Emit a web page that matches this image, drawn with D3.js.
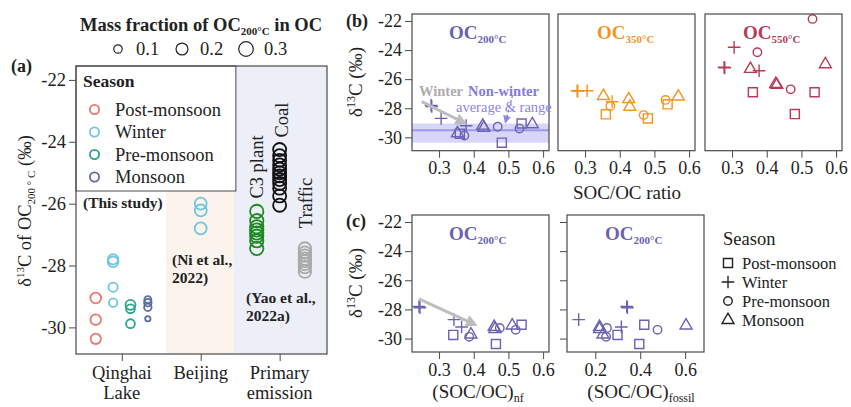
<!DOCTYPE html>
<html><head><meta charset="utf-8">
<script src="https://cdn.jsdelivr.net/npm/d3@7"></script>
<style>body{margin:0;background:#fff} svg{font-family:"Liberation Serif","Times New Roman",serif}</style>
</head><body>
<svg id="c" width="851" height="407"></svg>
<script>
// ---------------- DATA ----------------
const seasons = ["Post-monsoon","Winter","Pre-monsoon","Monsoon"];
const seasonColors = ["#E9786A","#70C5E1","#2AA48D","#5A6CA4"];
// samples (Qinghai Lake)
const sampleSeason = ["Post-monsoon","Post-monsoon","Post-monsoon","Winter","Winter","Winter","Winter","Pre-monsoon","Pre-monsoon","Pre-monsoon","Monsoon","Monsoon","Monsoon","Monsoon"];
const socOcRatio  = [0.360,0.481,0.538, 0.277,0.279,0.306,0.378, 0.373,0.469,0.532, 0.353,0.426,0.429,0.569];
const socOcNf     = [0.341,0.464,0.538, 0.242,0.245,0.343,0.365, 0.387,0.475,0.521, 0.392,0.459,0.461,0.511];
const socOcFossil = [0.299,0.396,0.418, 0.340,0.343,0.126,0.316, 0.248,0.252,0.477, 0.234,0.219,0.219,0.604];
const d13C_OC200  = [-29.75,-30.37,-29.05, -27.80,-27.88,-28.70,-29.20, -29.88,-29.27,-29.40, -29.72,-29.20,-29.35,-29.10];
const d13C_OC350  = [-28.42,-28.70,-27.73, -26.80,-26.82,-26.80,-27.55, -27.85,-28.47,-27.43, -27.16,-27.38,-27.90,-27.20];
const d13C_OC550  = [-26.90,-28.40,-26.90, -25.18,-25.22,-23.81,-25.42, -24.15,-26.70,-21.86, -25.30,-26.33,-26.40,-24.98];
const massFracOC200 = [0.16,0.15,0.16, 0.15,0.16,0.12,0.10, 0.11,0.14,0.11, 0.04,0.08,0.08,0.07];
// literature
const beijingD13C = [-26.00,-26.22,-26.80];
const beijingFrac = [0.20,0.20,0.20];
const c3PlantD13C = [-26.25,-26.55,-26.75,-26.85,-26.95,-27.05,-27.20,-27.45];
const c3PlantFrac = [0.25,0.25,0.25,0.25,0.25,0.25,0.25,0.25];
const coalD13C = [-24.25,-24.45,-24.60,-24.75,-24.88,-25.00,-25.10,-25.22,-25.35,-25.50,-25.75,-26.05];
const coalFrac = [0.24,0.24,0.24,0.24,0.24,0.24,0.24,0.24,0.24,0.24,0.24,0.24];
const trafficD13C = [-27.45,-27.58,-27.68,-27.78,-27.86,-27.95,-28.05,-28.20];
const trafficFrac = [0.22,0.22,0.22,0.22,0.22,0.22,0.22,0.22];
const sizeLegendValues = [0.1,0.2,0.3];
const categoriesA = [["Qinghai","Lake"],["Beijing"],["Primary","emission"]];
const yTicks = [-30,-28,-26,-24,-22];
const xTicksRatio = [0.3,0.4,0.5,0.6];
const xTicksFossil = [0.2,0.4,0.6];

// ---------------- SETUP ----------------
const svg = d3.select("#c");
const AX = "#4a4a4a";
const yFmt = d => String(d);   // plain hyphen-minus as in the figure
const colorOf = d3.scaleOrdinal().domain(seasons).range(seasonColors);
const plusType = {draw(ctx,size){const r=Math.sqrt(size)/2;ctx.moveTo(-r,0);ctx.lineTo(r,0);ctx.moveTo(0,-r);ctx.lineTo(0,r);}};
const symType = {"Post-monsoon":d3.symbolSquare,"Winter":plusType,"Pre-monsoon":d3.symbolCircle,"Monsoon":d3.symbolTriangle};
const symSize = {"Post-monsoon":82,"Winter":160,"Pre-monsoon":56,"Monsoon":62};
const symPath = s => d3.symbol().type(symType[s]).size(symSize[s])();

const defs = svg.append("defs");
function marker(id,color,w){
  defs.append("marker").attr("id",id).attr("viewBox","0 0 10 10").attr("refX",7).attr("refY",5)
    .attr("markerWidth",w).attr("markerHeight",w).attr("orient","auto-start-reverse").attr("markerUnits","userSpaceOnUse")
    .append("path").attr("d","M0,0L10,5L0,10z").attr("fill",color);
}
marker("arrGray","#BDBDBD",12);
marker("arrPurple","#8C86E6",8);

function sub(t, main, subTxt, mainSize, subSize, dy){
  t.append("tspan").text(main).attr("font-size",mainSize);
  t.append("tspan").text(subTxt).attr("font-size",subSize).attr("dy",dy);
}

// ---------------- PANEL (a) ----------------
const A = {l:76,r:327,t:66,b:354};
const xA = d3.scaleLinear().domain([0.42,3.6]).range([A.l,A.r]);
const yA = d3.scaleLinear().domain([-30.86,-21.55]).range([A.b,A.t]);
const rA = d3.scaleSqrt().domain([0,0.3]).range([0,7.3]);
const regionBounds = [1.56,2.42];
const gA = svg.append("g");
gA.append("rect").attr("x",xA(regionBounds[0])).attr("y",A.t).attr("width",xA(regionBounds[1])-xA(regionBounds[0])).attr("height",A.b-A.t).attr("fill","#FCF3EC");
gA.append("rect").attr("x",xA(regionBounds[1])).attr("y",A.t).attr("width",A.r-xA(regionBounds[1])).attr("height",A.b-A.t).attr("fill","#ECEEF8");
// legend box (season) sits on top of the shading
gA.append("rect").attr("x",A.l).attr("y",A.t).attr("width",xA(regionBounds[1])-A.l+2).attr("height",125).attr("fill","#fff").attr("stroke",AX).attr("stroke-width",1);

const seasonOffset = {"Post-monsoon":-0.33,"Winter":-0.11,"Pre-monsoon":0.11,"Monsoon":0.33};
const ptsA = [];
sampleSeason.forEach((s,i)=>ptsA.push({x:1+seasonOffset[s],y:d13C_OC200[i],f:massFracOC200[i],c:colorOf(s)}));
beijingD13C.forEach((v,i)=>ptsA.push({x:2,y:v,f:beijingFrac[i],c:colorOf("Winter")}));
c3PlantD13C.forEach((v,i)=>ptsA.push({x:3-0.29,y:v,f:c3PlantFrac[i],c:"#1E8A22"}));
coalD13C.forEach((v,i)=>ptsA.push({x:3,y:v,f:coalFrac[i],c:"#111"}));
trafficD13C.forEach((v,i)=>ptsA.push({x:3+0.32,y:v,f:trafficFrac[i],c:"#A9A9A9"}));
gA.selectAll("circle.pt").data(ptsA).join("circle").attr("class","pt")
  .attr("cx",d=>xA(d.x)).attr("cy",d=>yA(d.y)).attr("r",d=>rA(d.f))
  .attr("fill","none").attr("stroke",d=>d.c).attr("stroke-width",1.8);

gA.append("rect").attr("x",A.l).attr("y",A.t).attr("width",A.r-A.l).attr("height",A.b-A.t).attr("fill","none").attr("stroke",AX).attr("stroke-width",1.2);
const yAxA = gA.append("g").attr("transform",`translate(${A.l},0)`).call(d3.axisLeft(yA).tickValues(yTicks).tickSize(7).tickPadding(3).tickFormat(yFmt));
yAxA.select(".domain").remove();
yAxA.selectAll("line").attr("stroke",AX);
yAxA.selectAll("text").attr("font-size",18.5).attr("font-family","Liberation Serif").attr("fill","#222");
const xAxA = gA.append("g").attr("transform",`translate(0,${A.b})`).call(d3.axisBottom(xA).tickValues([1,2,3]).tickSize(7).tickFormat(""));
xAxA.select(".domain").remove();
xAxA.selectAll("line").attr("stroke",AX);
categoriesA.forEach((lines,i)=>{
  lines.forEach((ln,j)=>gA.append("text").attr("x",xA(i+1)).attr("y",379+j*20).attr("text-anchor","middle").attr("font-size",18.5).attr("fill","#222").text(ln));
});
// season legend
gA.append("text").attr("x",83).attr("y",87).attr("font-size",17.5).attr("font-weight","bold").attr("fill","#222").text("Season");
seasons.forEach((s,i)=>{
  const y = 109.5+i*22.5;
  gA.append("circle").attr("cx",94.5).attr("cy",y).attr("r",4.6).attr("fill","none").attr("stroke",colorOf(s)).attr("stroke-width",1.8);
  gA.append("text").attr("x",115).attr("y",y+6).attr("font-size",18.5).attr("fill","#222").text(s);
});
// annotations
const annA = [
  {x:83,y:208,t:"(This study)"},
  {x:172,y:265,t:"(Ni et al.,"},{x:172,y:283,t:"2022)"},
  {x:246,y:303,t:"(Yao et al.,"},{x:246,y:321,t:"2022a)"}];
annA.forEach(a=>gA.append("text").attr("x",a.x).attr("y",a.y).attr("font-size",15.5).attr("font-weight","bold").attr("fill","#222").text(a.t));
[{x:263,y:167,t:"C3 plant"},{x:288,y:120,t:"Coal"},{x:312,y:203,t:"Traffic"}].forEach(a=>
  gA.append("text").attr("transform",`translate(${a.x},${a.y}) rotate(-90)`).attr("text-anchor","middle").attr("font-size",18.5).attr("fill","#222").text(a.t));
// size legend
const tl = gA.append("text").attr("x",80).attr("y",31).attr("font-weight","bold").attr("fill","#222");
tl.append("tspan").text("Mass fraction of OC").attr("font-size",18.5);
tl.append("tspan").text("200°C").attr("font-size",11).attr("dy",4);
tl.append("tspan").text(" in OC").attr("font-size",18.5).attr("dy",-4);
sizeLegendValues.forEach((v,i)=>{
  const cx = 118+i*64;
  gA.append("circle").attr("cx",cx).attr("cy",49).attr("r",rA(v)).attr("fill","none").attr("stroke","#222").attr("stroke-width",1.2);
  gA.append("text").attr("x",cx+18).attr("y",55).attr("font-size",18.5).attr("fill","#222").text(d3.format(".1f")(v));
});
gA.append("text").attr("x",11).attr("y",72).attr("font-size",18).attr("font-weight","bold").attr("fill","#222").text("(a)");
const ylA = gA.append("text").attr("transform","translate(31,211) rotate(-90)").attr("text-anchor","middle").attr("fill","#222").attr("font-size",18.5);
ylA.append("tspan").text("δ");
ylA.append("tspan").text("13").attr("font-size",11).attr("dy",-7);
ylA.append("tspan").text("C of OC").attr("dy",7);
ylA.append("tspan").text("200 ° C").attr("font-size",11).attr("dy",4);
ylA.append("tspan").text(" (‰)").attr("dy",-4);

// ---------------- PANELS (b), (c) ----------------
function scatterPanel(o){
  const g = svg.append("g");
  const x = d3.scaleLinear().domain(o.xDom).range([o.l,o.r]);
  const y = d3.scaleLinear().domain([-30.92,-21.52]).range([o.b,o.t]);
  if (o.band) o.band(g,x,y);
  const pts = sampleSeason.map((s,i)=>({s,x:o.xs[i],y:o.ys[i]}));
  g.selectAll("path.pt").data(pts).join("path").attr("class","pt")
    .attr("transform",d=>`translate(${x(d.x)},${y(d.y)})`).attr("d",d=>symPath(d.s))
    .attr("fill","none").attr("stroke",o.color).attr("stroke-width",1.4);
  g.append("rect").attr("x",o.l).attr("y",o.t).attr("width",o.r-o.l).attr("height",o.b-o.t).attr("fill","none").attr("stroke",AX).attr("stroke-width",1.2);
  const xa = g.append("g").attr("transform",`translate(0,${o.b})`).call(d3.axisBottom(x).tickValues(o.xTicks).tickSize(7).tickPadding(4).tickFormat(d3.format(".1f")));
  xa.select(".domain").remove(); xa.selectAll("line").attr("stroke",AX);
  xa.selectAll("text").attr("font-size",18).attr("font-family","Liberation Serif").attr("fill","#222");
  if (o.yTicks){
    const ya = g.append("g").attr("transform",`translate(${o.l},0)`).call(d3.axisLeft(y).tickValues(yTicks).tickSize(7).tickPadding(3).tickFormat(o.yLabels?yFmt:""));
    ya.select(".domain").remove(); ya.selectAll("line").attr("stroke",AX);
    ya.selectAll("text").attr("font-size",18).attr("font-family","Liberation Serif").attr("fill","#222");
  }
  const t = g.append("text").attr("x",o.titleX).attr("y",o.t+25).attr("font-weight","bold").attr("fill",o.color);
  sub(t,"OC",o.sub,19,11,4);
  if (o.after) o.after(g,x,y);
  return g;
}
const purple = "#6A62B2", orange = "#F7931E", crimson = "#B83A55";
const nonWinter = d13C_OC200.filter((v,i)=>sampleSeason[i]!=="Winter");
const nwMean = d3.mean(nonWinter), nwExt = d3.extent(nonWinter);
const dom = [0.222,0.617];
const bT = 14, bB = 150.7, cT = 215, cB = 352;

scatterPanel({l:412,r:549,t:bT,b:bB,xDom:dom,xTicks:xTicksRatio,xs:socOcRatio,ys:d13C_OC200,color:purple,yTicks:true,yLabels:true,titleX:449,sub:"200°C",
  band:(g,x,y)=>{
    g.append("rect").attr("x",412).attr("width",137).attr("y",y(nwExt[1])).attr("height",y(nwExt[0])-y(nwExt[1])).attr("fill","#C9C8F6").attr("opacity",0.75);
    g.append("line").attr("x1",412).attr("x2",549).attr("y1",y(nwMean)).attr("y2",y(nwMean)).attr("stroke","#9C97EE").attr("stroke-width",2);
  },
  after:(g,x,y)=>{
    g.append("line").attr("x1",x(0.250)).attr("y1",y(-27.55)).attr("x2",x(0.372)).attr("y2",y(-29.0)).attr("stroke","#BDBDBD").attr("stroke-width",3).attr("marker-end","url(#arrGray)");
    g.append("text").attr("x",419).attr("y",96).attr("font-size",14.5).attr("font-weight","bold").attr("fill","#ABABAB").text("Winter");
    g.append("text").attr("x",468).attr("y",96).attr("font-size",14.5).attr("font-weight","bold").attr("fill","#827AE0").text("Non-winter");
    g.append("text").attr("x",456).attr("y",112).attr("font-size",14.5).attr("fill","#8C86E6").text("average & range");
    g.append("line").attr("x1",x(0.512)).attr("y1",y(-27.1)).attr("x2",x(0.492)).attr("y2",y(-28.9)).attr("stroke","#8C86E6").attr("stroke-width",1.3).attr("stroke-dasharray","3,2").attr("marker-end","url(#arrPurple)");
  }});
scatterPanel({l:558,r:695,t:bT,b:bB,xDom:dom,xTicks:xTicksRatio,xs:socOcRatio,ys:d13C_OC350,color:orange,titleX:597,sub:"350°C"});
scatterPanel({l:705,r:842,t:bT,b:bB,xDom:dom,xTicks:xTicksRatio,xs:socOcRatio,ys:d13C_OC550,color:crimson,titleX:743,sub:"550°C"});
scatterPanel({l:412,r:549,t:cT,b:cB,xDom:dom,xTicks:xTicksRatio,xs:socOcNf,ys:d13C_OC200,color:purple,yTicks:true,yLabels:true,titleX:449,sub:"200°C",
  after:(g,x,y)=>{
    g.append("line").attr("x1",x(0.242)).attr("y1",y(-27.28)).attr("x2",x(0.402)).attr("y2",y(-29.02)).attr("stroke","#BDBDBD").attr("stroke-width",3).attr("marker-end","url(#arrGray)");
  }});
scatterPanel({l:567,r:704,t:cT,b:cB,xDom:[0.074,0.684],xTicks:xTicksFossil,xs:socOcFossil,ys:d13C_OC200,color:purple,yTicks:true,yLabels:false,titleX:605,sub:"200°C"});

// axis titles & labels
function yLab(x,y){
  const t = svg.append("text").attr("transform",`translate(${x},${y}) rotate(-90)`).attr("text-anchor","middle").attr("fill","#222").attr("font-size",19);
  t.append("tspan").text("δ"); t.append("tspan").text("13").attr("font-size",12).attr("dy",-7); t.append("tspan").text("C (‰)").attr("dy",7);
}
yLab(362,82); yLab(362,283);
svg.append("text").attr("x",346).attr("y",27).attr("font-size",18).attr("font-weight","bold").attr("fill","#222").text("(b)");
svg.append("text").attr("x",346).attr("y",227).attr("font-size",18).attr("font-weight","bold").attr("fill","#222").text("(c)");
svg.append("text").attr("x",627).attr("y",199).attr("text-anchor","middle").attr("font-size",19).attr("fill","#222").text("SOC/OC ratio");
const xl1 = svg.append("text").attr("x",478).attr("y",398).attr("text-anchor","middle").attr("fill","#222");
sub(xl1,"(SOC/OC)","nf",19,12,4);
const xl2 = svg.append("text").attr("x",641).attr("y",398).attr("text-anchor","middle").attr("fill","#222");
sub(xl2,"(SOC/OC)","fossil",19,12,4);
// season legend (c)
svg.append("text").attr("x",723).attr("y",245).attr("font-size",18.5).attr("fill","#222").text("Season");
seasons.forEach((s,i)=>{
  const y = 263+i*19;
  svg.append("path").attr("transform",`translate(728,${y})`).attr("d",symPath(s)).attr("fill","none").attr("stroke","#222").attr("stroke-width",1.4);
  svg.append("text").attr("x",742).attr("y",y+5.5).attr("font-size",16.5).attr("fill","#222").text(s);
});
</script>
</body></html>
